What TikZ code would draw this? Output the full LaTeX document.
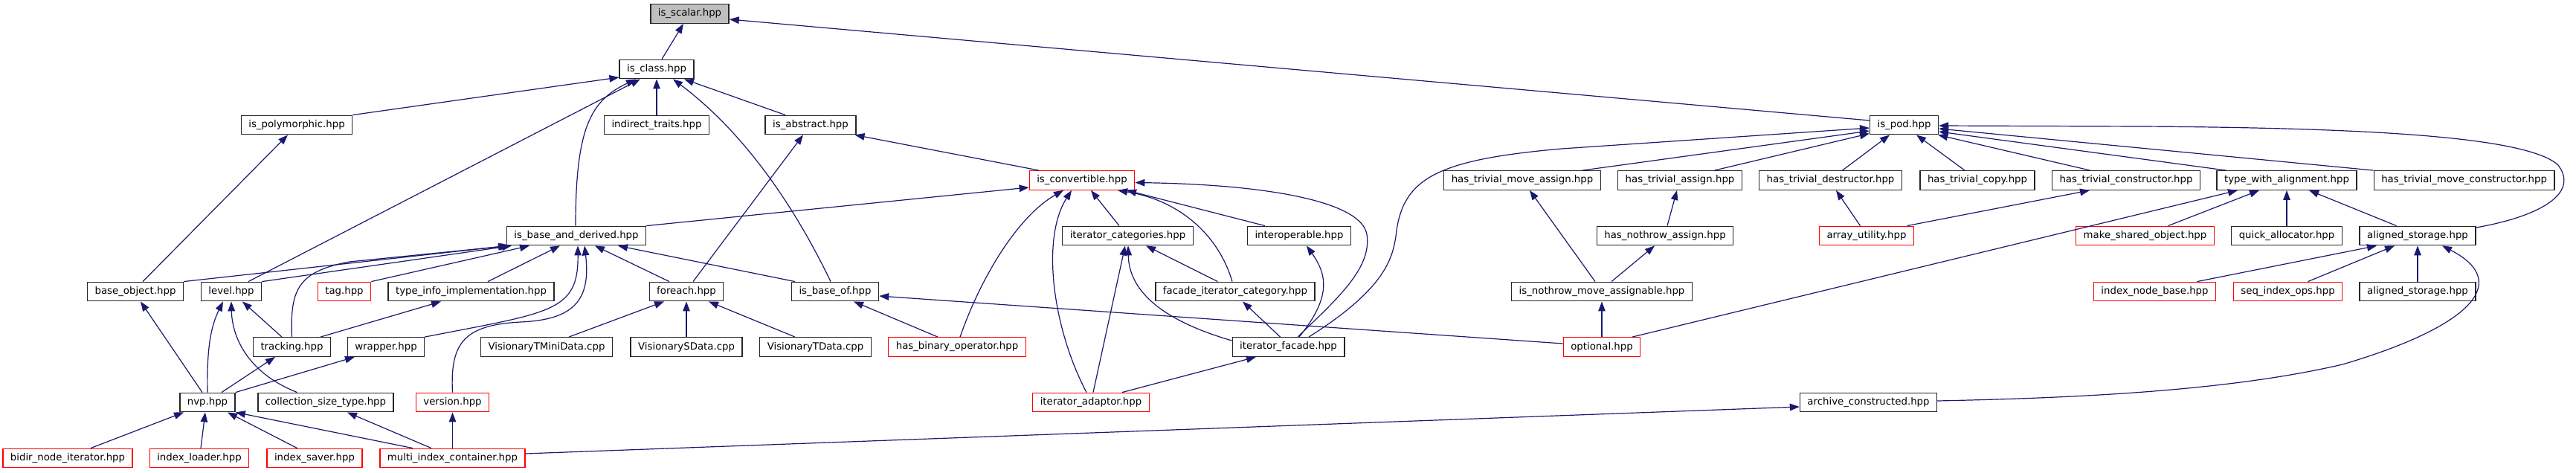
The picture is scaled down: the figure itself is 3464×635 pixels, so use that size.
\documentclass[tikz,border=0pt]{standalone}
\usepackage{fontspec}
\setmainfont{DejaVu Sans}
\usetikzlibrary{arrows.meta}
\definecolor{edgeblue}{HTML}{191970}
\begin{document}
\begin{tikzpicture}[x=1pt,y=-1pt,
  box/.style={draw=black!85, line width=1.35pt, fill=white, minimum height=25.5pt, inner xsep=10pt, inner ysep=0pt, font=\fontsize{13.3pt}{16pt}\selectfont},
  rbox/.style={box, draw=red},
  gbox/.style={box, fill=black!25},
  edge/.style={draw=edgeblue, line width=1.2pt, -{Triangle[length=13pt,width=9.5pt]}}]
\useasboundingbox (0,0) rectangle (3464,635);
% nodes
\node[gbox] (scalar) at (927.5,18.5) {is\_scalar.hpp};
\node[box] (isclass) at (883,93) {is\_class.hpp};
\node[box] (indirect) at (883,168) {indirect\_traits.hpp};
\node[box] (abstract) at (1090,168) {is\_abstract.hpp};
\node[box] (poly) at (399,168) {is\_polymorphic.hpp};
\node[box] (ibd) at (775,317) {is\_base\_and\_derived.hpp};
\node[box] (baseobj) at (182,392) {base\_object.hpp};
\node[box] (level) at (311,392) {level.hpp};
\node[rbox] (tag) at (463,392) {tag.hpp};
\node[box] (typeinfo) at (633.5,392) {type\_info\_implementation.hpp};
\node[box] (tracking) at (392.5,466.5) {tracking.hpp};
\node[box] (wrapper) at (519,466.5) {wrapper.hpp};
\node[box] (nvp) at (279,541) {nvp.hpp};
\node[box] (cst) at (438,541) {collection\_size\_type.hpp};
\node[rbox] (version) at (608.5,541) {version.hpp};
\node[rbox] (bidir) at (91,616) {bidir\_node\_iterator.hpp};
\node[rbox] (iloader) at (268,616) {index\_loader.hpp};
\node[rbox] (isaver) at (423,616) {index\_saver.hpp};
\node[rbox] (mic) at (608.5,616) {multi\_index\_container.hpp};
\node[box] (foreach) at (923,392) {foreach.hpp};
\node[box] (baseof) at (1123,392) {is\_base\_of.hpp};
\node[box] (vtmini) at (735,466.5) {VisionaryTMiniData.cpp};
\node[box] (vsdata) at (923,466.5) {VisionarySData.cpp};
\node[box] (vtdata) at (1096.5,466.5) {VisionaryTData.cpp};
\node[rbox] (conv) at (1455,242.5) {is\_convertible.hpp};
\node[box] (itcat) at (1516.5,317) {iterator\_categories.hpp};
\node[box] (interop) at (1747,317) {interoperable.hpp};
\node[rbox] (binop) at (1287,466.5) {has\_binary\_operator.hpp};
\node[box] (facade) at (1661,392) {facade\_iterator\_category.hpp};
\node[box] (itfacade) at (1732.5,466.5) {iterator\_facade.hpp};
\node[rbox] (itadaptor) at (1467,541) {iterator\_adaptor.hpp};
\node[box] (htma) at (2047,242.5) {has\_trivial\_move\_assign.hpp};
\node[box] (hta) at (2259,242.5) {has\_trivial\_assign.hpp};
\node[box] (hna) at (2239,317) {has\_nothrow\_assign.hpp};
\node[box] (inma) at (2154,392) {is\_nothrow\_move\_assignable.hpp};
\node[rbox] (optional) at (2154,466.5) {optional.hpp};
\node[box] (ispod) at (2560.5,168) {is\_pod.hpp};
\node[box] (htd) at (2461.5,242.5) {has\_trivial\_destructor.hpp};
\node[box] (htc) at (2659,242.5) {has\_trivial\_copy.hpp};
\node[box] (htcons) at (2859,242.5) {has\_trivial\_constructor.hpp};
\node[rbox] (arrayu) at (2510,317) {array\_utility.hpp};
\node[rbox] (mso) at (2884.5,317) {make\_shared\_object.hpp};
\node[box] (twa) at (3075,242.5) {type\_with\_alignment.hpp};
\node[box] (htmc) at (3313.6,242.5) {has\_trivial\_move\_constructor.hpp};
\node[box] (qalloc) at (3075,317) {quick\_allocator.hpp};
\node[box] (aligned) at (3251,317) {aligned\_storage.hpp};
\node[rbox] (inb) at (2897.5,392) {index\_node\_base.hpp};
\node[rbox] (sio) at (3076.5,392) {seq\_index\_ops.hpp};
\node[box] (aligned2) at (3251,392) {aligned\_storage.hpp};
\node[box] (archive) at (2512.5,541) {archive\_constructed.hpp};
% edges
\draw[edge] ([xshift=7pt]isclass.north) -- ([xshift=-8.5pt]scalar.south);
\draw[edge] ([yshift=6pt]ispod.west) -- ([yshift=-7.5pt]scalar.east);
\draw[edge] (poly.north east) -- ([yshift=-11pt]isclass.west);
\draw[edge] ([xshift=23pt]level.north) -- ([xshift=-22pt]isclass.south);
\draw[edge] ([xshift=-1pt]ibd.north) .. controls (774,170) and (795,135) .. ([xshift=-28pt]isclass.south);
\draw[edge] (indirect.north) -- (isclass.south);
\draw[edge] ([xshift=-6pt]baseof.north) .. controls (1060,260) and (990,170) .. ([xshift=22pt]isclass.south);
\draw[edge] ([xshift=-34pt]abstract.north) -- ([xshift=37pt]isclass.south);
\draw[edge] ([xshift=9pt]foreach.north) -- ([xshift=-10pt]abstract.south);
\draw[edge] ([xshift=-58pt]conv.north) -- ([xshift=-2pt]abstract.south east);
\draw[edge] (ibd.north east) -- ([yshift=-9.5pt]conv.west);
\draw[edge] (baseobj.north east) -- ([xshift=-92pt]ibd.south);
\draw[edge] (level.north east) -- ([xshift=-87pt]ibd.south);
\draw[edge] (tracking.north) .. controls (390,390) and (400,365) .. (470,352) -- ([xshift=-90pt]ibd.south);
\draw[edge] (tag.north east) -- ([xshift=-63pt]ibd.south);
\draw[edge] ([xshift=22.5pt]typeinfo.north) -- ([xshift=-22pt]ibd.south);
\draw[edge] (wrapper.north east) .. controls (740,420) and (778,420) .. ([xshift=2pt]ibd.south);
\draw[edge] (version.north) .. controls (605,460) and (625,437) .. (700,433) .. controls (770,430) and (795,405) .. ([xshift=11pt]ibd.south);
\draw[edge] ([xshift=-23pt]foreach.north) -- ([xshift=25pt]ibd.south);
\draw[edge] ([xshift=-54pt]baseof.north) -- ([xshift=56pt]ibd.south);
\draw[edge] ([xshift=30pt]vtmini.north) -- ([xshift=-30pt]foreach.south);
\draw[edge] (vsdata.north) -- (foreach.south);
\draw[edge] ([xshift=-27.5pt]vtdata.north) -- ([xshift=30pt]foreach.south);
\draw[edge] (mic.north) -- (version.south);
\draw[edge] ([yshift=6pt]mic.east) -- ([yshift=-6pt]archive.west);
\draw[edge] ([xshift=-26pt]binop.north) -- ([xshift=25pt]baseof.south);
\draw[edge] ([yshift=4.5pt]optional.west) -- ([yshift=-6pt]baseof.east);
\draw[edge] ([xshift=4pt]binop.north) .. controls (1320,370) and (1370,290) .. ([xshift=-25pt]conv.south);
\draw[edge] ([xshift=-6pt]itadaptor.north) .. controls (1415,440) and (1400,320) .. ([xshift=-14pt]conv.south);
\draw[edge] ([xshift=-11.5pt]itcat.north) -- ([xshift=12pt]conv.south);
\draw[edge] ([xshift=-4pt]facade.north) .. controls (1640,320) and (1590,270) .. ([xshift=48pt]conv.south);
\draw[edge] ([xshift=-46pt]interop.north) -- ([xshift=60pt]conv.south);
\draw[edge] ([xshift=12.5pt]itfacade.north) .. controls (1800,400) and (1845,360) .. (1838,315) .. controls (1830,270) and (1700,248) .. ([yshift=-3pt]conv.east);
\draw[edge] ([xshift=3pt]itadaptor.north) -- ([xshift=-3.5pt]itcat.south);
\draw[edge] ([yshift=8.5pt]itfacade.west) .. controls (1560,430) and (1518,390) .. ([xshift=0.5pt]itcat.south);
\draw[edge] ([xshift=-23.5pt]facade.north) -- ([xshift=24.5pt]itcat.south);
\draw[edge] ([xshift=-11pt]itfacade.north) -- ([xshift=10pt]facade.south);
\draw[edge] ([xshift=42pt]itadaptor.north) -- ([xshift=-43.5pt]itfacade.south);
\draw[edge] ([xshift=14.5pt]itfacade.north) .. controls (1790,400) and (1785,370) .. ([xshift=10pt]interop.south);
\draw[edge] ([xshift=27.5pt]itfacade.north) .. controls (1860,390) and (1872,350) .. (1877,318) .. controls (1885,240) and (1930,215) .. (2100,200) -- ([yshift=-4pt]ispod.west);
\draw[edge] ([xshift=81pt]htma.north) -- ([yshift=-8pt]ispod.west);
\draw[edge] ([xshift=46.5pt]hta.north) -- ([yshift=-11.5pt]ispod.west);
\draw[edge] ([xshift=16pt]htd.north) -- ([xshift=-19.5pt]ispod.south);
\draw[edge] ([xshift=-17pt]htc.north) -- ([xshift=16.5pt]ispod.south);
\draw[edge] ([xshift=-48.5pt]htcons.north) -- ([xshift=-1pt]ispod.south east);
\draw[edge] ([xshift=-81.5pt]twa.north) -- ([yshift=-9pt]ispod.east);
\draw[edge] (htmc.north west) -- ([yshift=-5pt]ispod.east);
\draw[edge] ([yshift=11pt]aligned.east) .. controls (3410,292) and (3470,262) .. (3440,222) .. controls (3400,185) and (3200,172) .. (2880,170) -- ([yshift=-1pt]ispod.east);
\draw[edge] ([xshift=-8.5pt]arrayu.north) -- ([xshift=7.5pt]htd.south);
\draw[edge] ([xshift=54.5pt]arrayu.north) -- ([xshift=-49pt]htcons.south);
\draw[edge] ([xshift=41pt]optional.north) -- ([xshift=-66pt]twa.south);
\draw[edge] ([xshift=31pt]mso.north) -- ([xshift=-37pt]twa.south);
\draw[edge] (qalloc.north) -- (twa.south);
\draw[edge] ([xshift=-28.5pt]aligned.north) -- ([xshift=30pt]twa.south);
\draw[edge] ([xshift=-9pt]inma.north) -- ([xshift=10pt]htma.south);
\draw[edge] ([xshift=3pt]hna.north) -- ([xshift=-4pt]hta.south);
\draw[edge] ([xshift=13pt]inma.north) -- ([xshift=-14pt]hna.south);
\draw[edge] (optional.north) -- (inma.south);
\draw[edge] ([xshift=57pt]inb.north) -- ([xshift=-55pt]aligned.south);
\draw[edge] ([xshift=27pt]sio.north) -- ([xshift=-31pt]aligned.south);
\draw[edge] (aligned2.north) -- (aligned.south);
\draw[edge] ([yshift=2pt]archive.east) .. controls (2800,535) and (3000,525) .. (3150,490) .. controls (3320,440) and (3380,380) .. ([xshift=33pt]aligned.south);
\draw[edge] ([xshift=10pt]baseobj.north) -- ([xshift=-12pt]poly.south);
\draw[edge] ([xshift=-7pt]nvp.north) -- ([xshift=7pt]baseobj.south);
\draw[edge] (nvp.north) .. controls (278,470) and (283,440) .. ([xshift=-11pt]level.south);
\draw[edge] ([xshift=-38.5pt]cst.north) .. controls (330,500) and (312,450) .. (level.south);
\draw[edge] ([xshift=-13.5pt]tracking.north) -- ([xshift=15pt]level.south);
\draw[edge] ([xshift=38.5pt]tracking.north) -- ([xshift=-40.5pt]typeinfo.south);
\draw[edge] (nvp.north east) -- ([xshift=-42pt]wrapper.south);
\draw[edge] ([xshift=19pt]nvp.north) -- ([xshift=-22.5pt]tracking.south);
\draw[edge] ([xshift=31pt]bidir.north) -- ([xshift=-32pt]nvp.south);
\draw[edge] ([xshift=2pt]iloader.north) -- ([xshift=-3pt]nvp.south);
\draw[edge] ([xshift=-23.4pt]isaver.north) -- ([xshift=27pt]nvp.south);
\draw[edge] ([xshift=-53.5pt]mic.north) -- (nvp.south east);
\draw[edge] ([xshift=-28.5pt]mic.north) -- ([xshift=29pt]cst.south);
\end{tikzpicture}
\end{document}
